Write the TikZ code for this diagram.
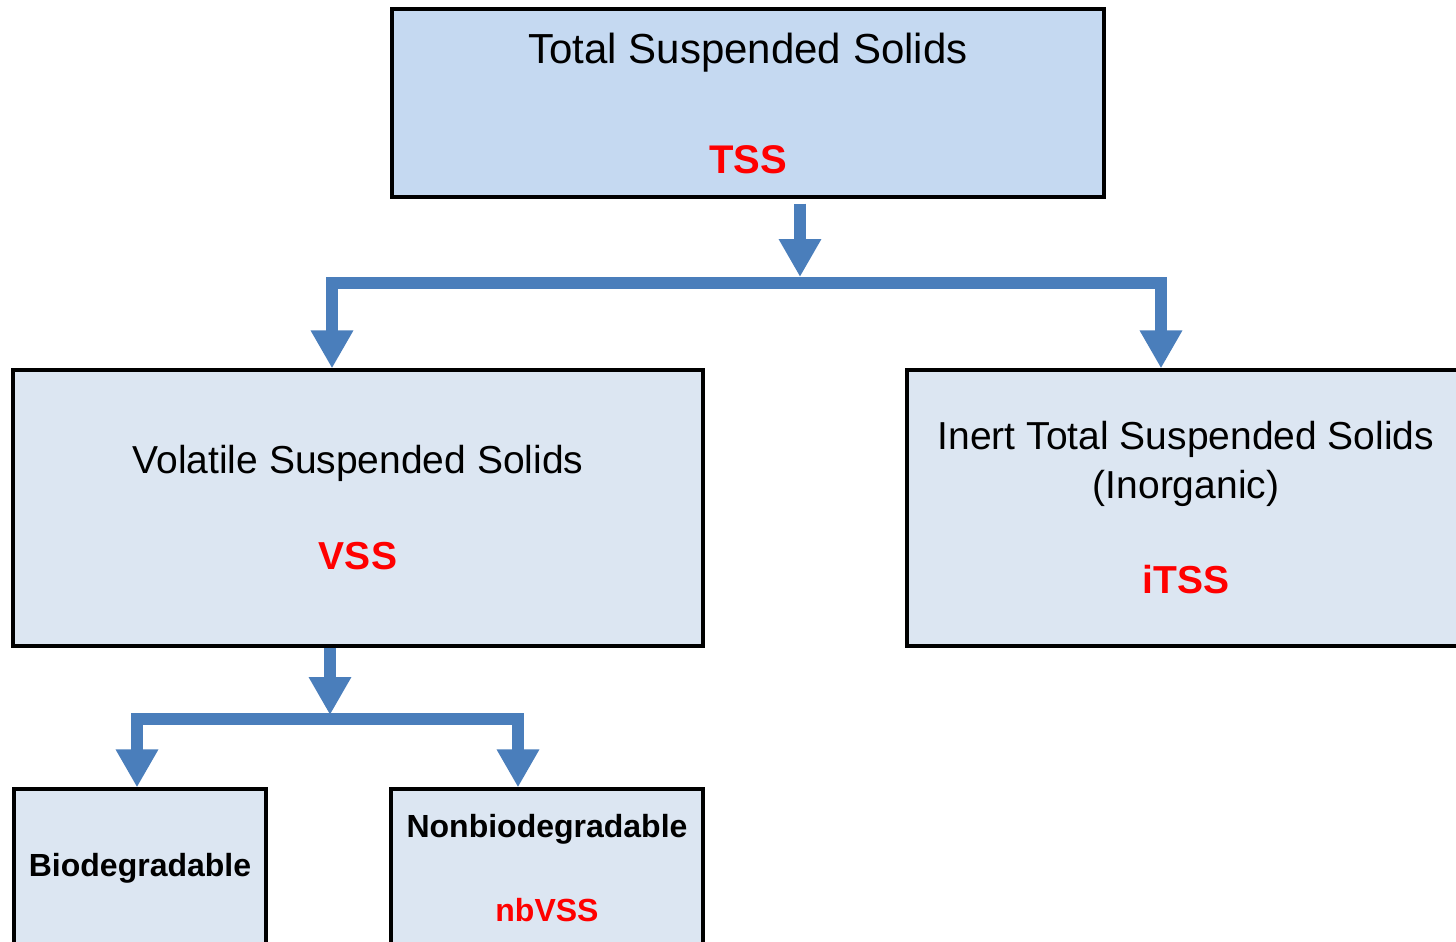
\documentclass[tikz,border=0pt]{standalone}
\usepackage{fontspec}
\setmainfont{Liberation Sans}
\usetikzlibrary{arrows.meta}

\definecolor{tssblue}{RGB}{197,217,241}
\definecolor{boxblue}{RGB}{220,230,242}
\definecolor{flowblue}{RGB}{74,126,187}
\newcommand{\abbr}[1]{{\color{red}\bfseries #1}}

\begin{document}
\begin{tikzpicture}[x=0.5pt, y=-0.5pt, >={Triangle[width=20pt,length=19pt]}]
        % Styles
        \tikzstyle{solidbox}=[rectangle, draw, line width=1.6pt, fill=boxblue, inner sep=0pt, align=center, font=\fontsize{19.5}{24.5}\selectfont]
        \tikzstyle{fractionbox}=[solidbox, font=\fontsize{16}{19}\selectfont\bfseries]
        \tikzstyle{flow}=[draw=flowblue, line width=6pt, line join=miter, ->]

        \useasboundingbox (0,0) rectangle (1456,942);
        \clip (0,0) rectangle (1456,942);

        % Nodes
        \node[solidbox, fill=tssblue, minimum width=356pt, minimum height=94pt, font=\fontsize{21}{25}\selectfont] (tss) at (748,103) {Total Suspended Solids\\[30pt]\abbr{\fontsize{20}{24}\selectfont TSS}};
        \node[solidbox, minimum width=345pt, minimum height=138pt] (vss) at (358,508) {Volatile Suspended Solids\\[23.5pt]\abbr{VSS}};
        \node[solidbox, minimum width=279pt, minimum height=138pt] (itss) at (1186,508) {Inert Total Suspended Solids\\(Inorganic)\\[23pt]\abbr{iTSS}};
        \node[fractionbox, minimum width=126pt, minimum height=79pt] (bio) at (140,868) {Biodegradable};
        \node[fractionbox, minimum width=156pt, minimum height=79pt] (nbvss) at (547,868) {Nonbiodegradable\\[23pt]\abbr{nbVSS}};

        % Junctions
        \coordinate (j1)  at (800,283);
        \coordinate (b1l) at (332,283);
        \coordinate (b1r) at (1161,283);
        \coordinate (j2)  at (330,719);
        \coordinate (b2l) at (137,719);
        \coordinate (b2r) at (518,719);

        % Arrows
        \draw[flow] ([yshift=-2.5pt]tss.south -| j1) -- ([yshift=3pt]j1);
        \draw[flow] (j1) -| (b1l |- vss.north);
        \draw[flow] (j1) -| (b1r |- itss.north);
        \draw[flow] (vss.south -| j2) -- ([yshift=2pt]j2);
        \draw[flow] (j2) -| (b2l |- bio.north);
        \draw[flow] (j2) -| (b2r |- nbvss.north);
    \end{tikzpicture}
\end{document}
